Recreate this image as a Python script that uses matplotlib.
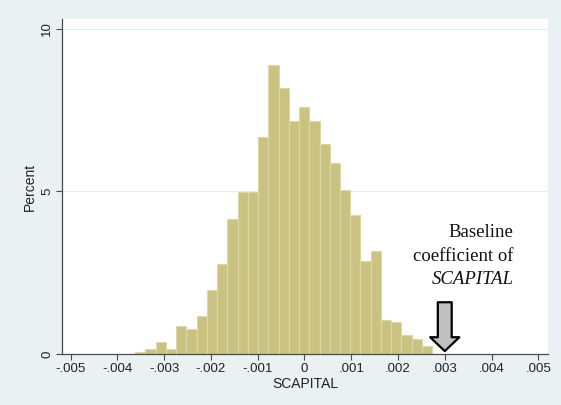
import numpy as np
import matplotlib
matplotlib.use("Agg")
import matplotlib.pyplot as plt

# histogram of SCAPITAL coefficients (percent per bin)
bin_start = -0.00362
bin_width = 0.000219
percent = [0.08, 0.17, 0.38, 0.16, 0.87, 0.77, 1.17, 1.97, 2.77, 4.17,
           4.97, 4.97, 6.68, 8.87, 8.17, 7.17, 7.58, 7.17, 6.47, 5.87,
           5.06, 4.27, 2.87, 3.18, 1.07, 0.98, 0.58, 0.48, 0.26]
xticks = [-0.005, -0.004, -0.003, -0.002, -0.001, 0, 0.001, 0.002, 0.003, 0.004, 0.005]
xticklabels = ['-.005', '-.004', '-.003', '-.002', '-.001', '0',
               '.001', '.002', '.003', '.004', '.005']
yticks = [0, 5, 10]
baseline = 0.003

plt.rcParams['font.family'] = ['Liberation Sans', 'DejaVu Sans']

bg = '#EAF1F3'
bar_col = '#C9C281'
edge_col = '#DDD8A8'
axis_col = '#4a4a4a'

fig = plt.figure(figsize=(5.61, 4.05), dpi=100, facecolor=bg)
ax = fig.add_axes([0.111, 0.125, 0.866, 0.827])
ax.set_facecolor('white')

left_edges = bin_start + bin_width * np.arange(len(percent))
ax.bar(left_edges, percent, width=bin_width, align='edge',
       color=bar_col, edgecolor=edge_col, linewidth=0.8, zorder=2)

ax.set_xlim(-0.00518, 0.00521)
ax.set_ylim(0, 10.28)

for y in yticks[1:]:
    ax.axhline(y, color='#E3EDEF', lw=0.8, zorder=1)

ax.set_xticks(xticks)
ax.set_xticklabels(xticklabels)
ax.set_yticks(yticks)
ax.set_yticklabels([str(v) for v in yticks], rotation=90, va='center')
ax.tick_params(axis='both', labelsize=9.5, length=4.5, width=0.8,
               color=axis_col, labelcolor='#222222', pad=2)

for s in ['top', 'right']:
    ax.spines[s].set_visible(False)
for s in ['left', 'bottom']:
    ax.spines[s].set_color(axis_col)
    ax.spines[s].set_linewidth(0.9)

ax.set_xlabel('SCAPITAL', fontsize=10, color='#222222', labelpad=1)
ax.set_ylabel('Percent', fontsize=10, color='#222222', labelpad=3)

# annotation
serif = ['Liberation Serif', 'DejaVu Serif']
tx = 0.00447
ax.text(tx, 3.61, 'Baseline', ha='right', va='baseline', family=serif, fontsize=13.5, color='#111111')
ax.text(tx, 2.87, 'coefficient of', ha='right', va='baseline', family=serif, fontsize=13.5, color='#111111')
ax.text(tx, 2.16, 'SCAPITAL', ha='right', va='baseline', family=serif, fontsize=13.5,
        style='italic', color='#111111')

ax.annotate('', xy=(baseline, 0.1), xytext=(baseline, 1.6),
            arrowprops=dict(arrowstyle='simple,head_length=1.0,head_width=2.1,tail_width=1.0',
                            mutation_scale=10, fc='#C0C0C0', ec='black', lw=1.6,
                            shrinkA=0, shrinkB=0), zorder=3)

fig.savefig('out.png', dpi=100, facecolor=bg)
